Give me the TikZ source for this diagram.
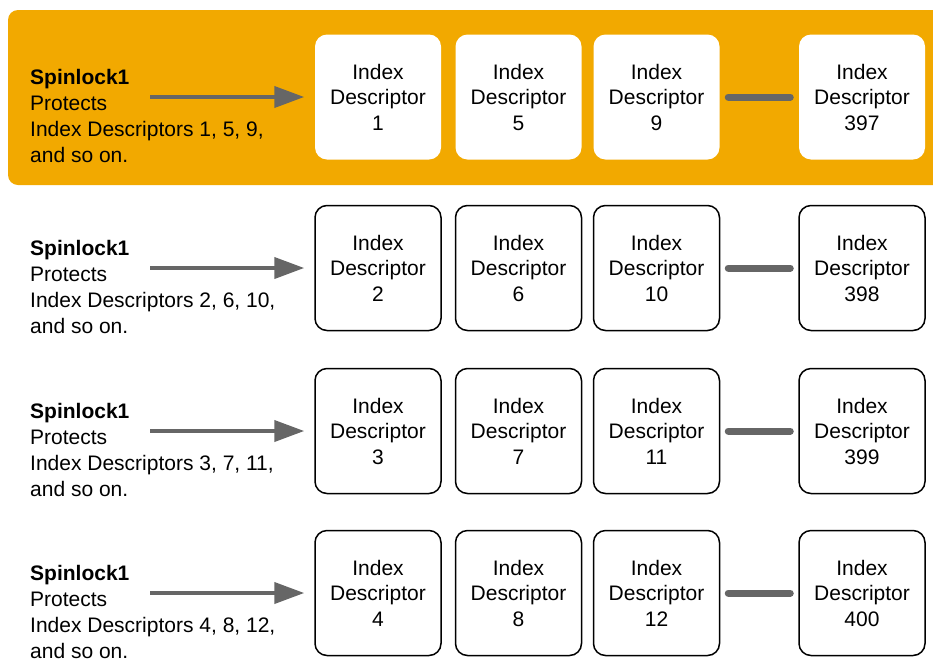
\documentclass[tikz,border=0pt]{standalone}
\usepackage{fontspec}
\setmainfont{Liberation Sans}
\usetikzlibrary{arrows.meta}
\definecolor{band}{HTML}{F2A900}
\definecolor{arrowgray}{HTML}{666666}
\tikzset{
  idx/.style={rounded corners=12pt, minimum width=126pt, minimum height=125pt,
    align=center, inner sep=0pt, fill=white, line width=1.5pt,
    font=\fontsize{21}{25.5}\selectfont},
  lbl/.style={align=left, anchor=west, inner sep=0pt,
    font=\fontsize{21}{25.7}\selectfont},
  feed/.style={draw=arrowgray, line width=4pt, -{Triangle[length=30pt,width=21pt]}, shorten >=10pt},
  gap/.style={draw=arrowgray, line width=7pt, line cap=round, shorten <=8pt, shorten >=8pt}
}
\begin{document}
\begin{tikzpicture}[x=1pt,y=-1pt]
\useasboundingbox[fill=white] (0,0) rectangle (933,659);
\begin{scope}
  \clip (0,0) rectangle (933,659);
  \fill[band, rounded corners=10pt] (8,10) rectangle (960,185);
\end{scope}
\foreach \r/\y/\p/\q/\s/\t/\bd in {1/97/1/5/9/397/none,2/268/2/6/10/398/black,3/431/3/7/11/399/black,4/593/4/8/12/400/black}{
  \node[lbl] (L\r) at (30,\y+19) {\textbf{Spinlock1}\\Protects\\Index Descriptors \p, \q, \s,\\and so on.};
  \node[idx, draw=\bd] (B\r-1) at (378,\y) {Index\\Descriptor\\\p};
  \node[idx, draw=\bd] (B\r-2) at (518.5,\y) {Index\\Descriptor\\\q};
  \node[idx, draw=\bd] (B\r-3) at (656.5,\y) {Index\\Descriptor\\\s};
  \node[idx, draw=\bd] (B\r-4) at (862,\y) {Index\\Descriptor\\\t};
  \coordinate (S\r) at (150,\y);
  \draw[feed] (S\r) -- (B\r-1);
  \draw[gap] (B\r-3) -- (B\r-4);
}
\end{tikzpicture}
\end{document}
